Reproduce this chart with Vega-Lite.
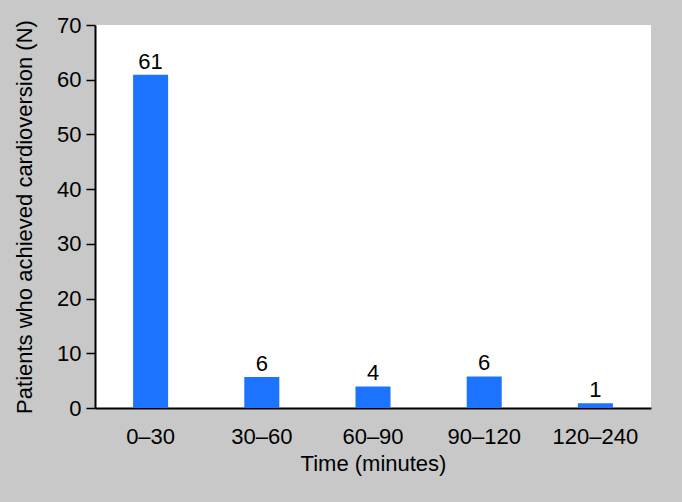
{
  "$schema": "https://vega.github.io/schema/vega-lite/v6.json",
  "autosize": {"type": "none"},
  "width": 556,
  "height": 383,
  "padding": {"left": 95, "top": 25, "right": 31, "bottom": 94},
  "background": "#c8c8c8",
  "config": {
    "view": {"fill": "white", "stroke": null},
    "font": "Liberation Sans",
    "axis": {
      "grid": false,
      "domainColor": "black",
      "domainWidth": 2,
      "tickColor": "black",
      "tickWidth": 1.5,
      "labelColor": "black",
      "titleColor": "black",
      "labelFont": "Liberation Sans",
      "titleFont": "Liberation Sans",
      "titleFontWeight": "normal"
    }
  },
  "data": {
    "values": [
      {"time": "0–30", "n": 60.9, "label": "61"},
      {"time": "30–60", "n": 5.66, "label": "6"},
      {"time": "60–90", "n": 3.94, "label": "4"},
      {"time": "90–120", "n": 5.77, "label": "6"},
      {"time": "120–240", "n": 0.85, "label": "1"}
    ]
  },
  "encoding": {
    "x": {
      "field": "time",
      "type": "nominal",
      "sort": null,
      "scale": {"paddingInner": 0.685, "paddingOuter": 0.3425},
      "axis": {
        "title": "Time (minutes)",
        "labelAngle": 0,
        "ticks": false,
        "tickSize": 0,
        "labelPadding": 18,
        "labelFontSize": 22,
        "titleFontSize": 22,
        "titlePadding": 6
      }
    },
    "y": {
      "field": "n",
      "type": "quantitative",
      "scale": {"domain": [0, 70], "nice": false},
      "axis": {
        "title": "Patients who achieved cardioversion (N)",
        "values": [0, 10, 20, 30, 40, 50, 60, 70],
        "tickSize": 9,
        "labelPadding": 5,
        "labelFontSize": 22,
        "titleFontSize": 22,
        "titlePadding": 20
      }
    }
  },
  "layer": [
    {"mark": {"type": "bar", "color": "#1c74fe"}},
    {
      "mark": {"type": "text", "fontSize": 22, "baseline": "alphabetic", "dy": -6, "color": "black"},
      "encoding": {"text": {"field": "label"}}
    }
  ]
}
